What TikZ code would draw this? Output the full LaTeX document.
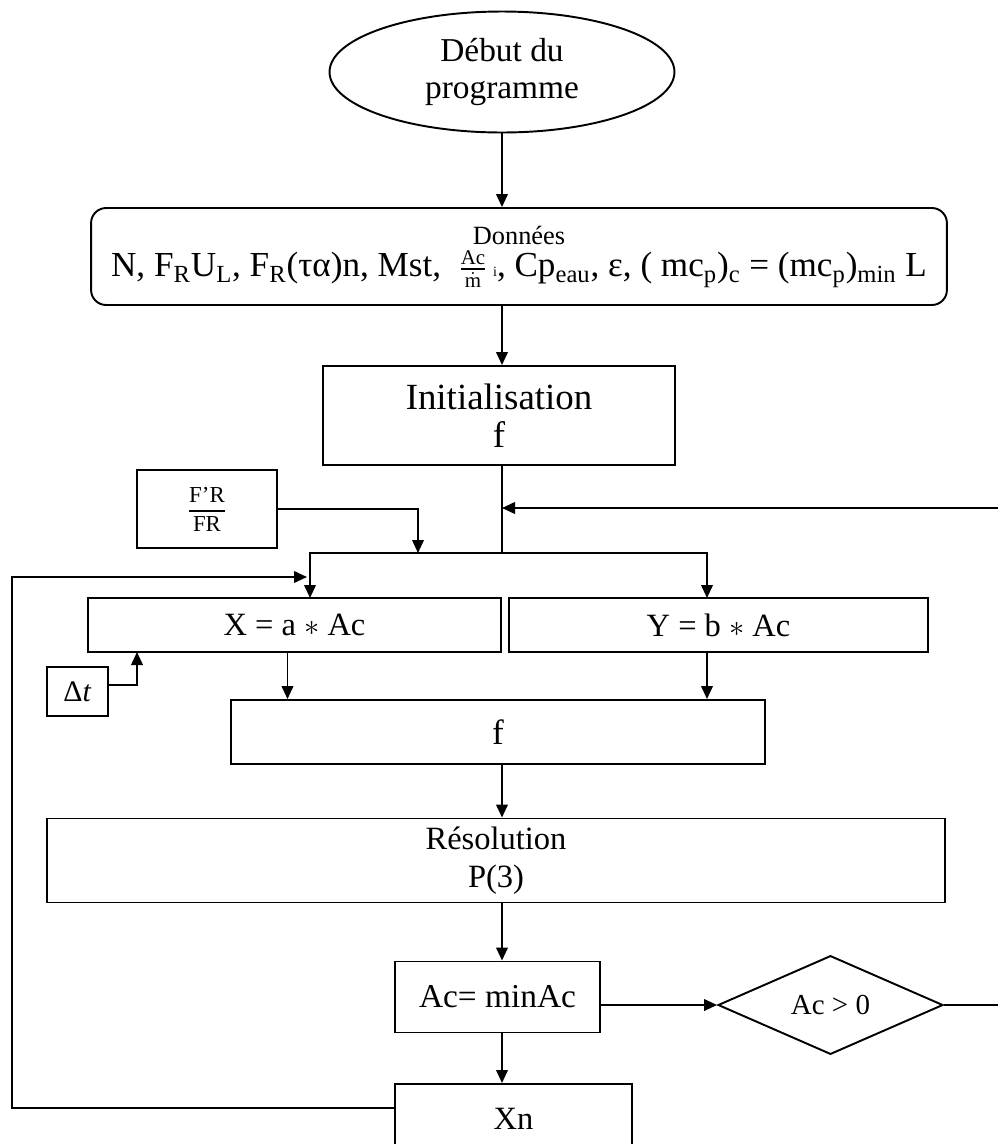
\documentclass[tikz,border=0pt]{standalone}
\usepackage{amsmath}
\usepackage{fontspec}
\setmainfont{Liberation Serif}
\usetikzlibrary{positioning, arrows.meta, shapes.geometric, calc}
\newcommand{\Sub}[1]{\textsubscript{#1}}
\newcommand{\Flow}{{\fontsize{17}{17}\selectfont$\genfrac{}{}{0.6pt}{1}{\text{Ac}}{\dot{\text{m}}}$}}
\tikzset{
    block/.style={draw, rectangle, line width=1.1pt, inner sep=0pt, align=center},
    term/.style={draw, ellipse, line width=1.1pt, inner sep=0pt, align=center},
    test/.style={draw, diamond, line width=1.1pt, inner sep=0pt},
    link/.style={line width=1.1pt},
}

\begin{document}
\begin{tikzpicture}[x=0.02cm, y=-0.02cm]
    \tikzset{
      >={Triangle[length=7.4pt, width=6.6pt]},
      every node/.append style={font=\fontsize{18.5}{22}\selectfont},
    }
    \useasboundingbox (0,0) rectangle (998,1144);
    \clip (0,0) rectangle (998,1144);

    % blocs
    \node[term, minimum width=6.9cm, minimum height=2.42cm, font=\fontsize{19}{21.5}\selectfont] (start) at (502,72) {Début du\\programme};
    \node[block, rounded corners=0.3cm, minimum width=17.12cm, minimum height=1.94cm, font=\fontsize{20}{18.5}\selectfont] (data) at (519,256.5)
      {{\fontsize{15}{15}\selectfont Données}\\
       N, F\Sub{R}U\Sub{L}, F\Sub{R}(τα)n, Mst,\ \ \smash{\Flow}\,{\fontsize{8}{8}\selectfont i}, Cp\Sub{eau}, ε, ( mc\Sub{p})\Sub{c} = (mc\Sub{p})\Sub{min} L};
    \node[block, minimum width=7.04cm, minimum height=1.98cm, font=\fontsize{21}{21.5}\selectfont] (init) at (499,415.5) {Initialisation\\f};
    \node[block, minimum width=2.8cm, minimum height=1.56cm, font=\fontsize{13}{13}\selectfont] (ratio) at (207,509)
      {$\genfrac{}{}{0.8pt}{0}{\text{F'R}}{\text{FR}}$};
    \node[block, minimum width=8.26cm, minimum height=1.08cm] (xa) at (294.5,625) {X = a $\ast$ Ac};
    \node[block, minimum width=8.38cm, minimum height=1.08cm] (yb) at (718.5,625) {Y = b $\ast$ Ac};
    \node[block, minimum width=1.22cm, minimum height=0.98cm, font=\fontsize{17}{17}\selectfont] (dt) at (77.5,691.5) {Δ\textit{t}};
    \node[block, minimum width=10.68cm, minimum height=1.28cm, font=\fontsize{20}{20}\selectfont] (fbox) at (498,732) {f};
    \node[block, minimum width=17.96cm, minimum height=1.68cm, font=\fontsize{18.5}{21.5}\selectfont] (res) at (496,860.5) {Résolution\\P(3)};
    \node[block, minimum width=4.1cm, minimum height=1.42cm, font=\fontsize{19}{19}\selectfont] (minac) at (497.5,997) {Ac= minAc};
    \node[test, minimum width=4.5cm, minimum height=1.72cm, font=\fontsize{16.5}{16.5}\selectfont] (check) at (830.5,1005) {Ac > 0};
    \node[block, anchor=north, minimum width=4.74cm, minimum height=1.4cm] (xn) at (513.5,1083) {Xn};

    % points de passage
    \coordinate (split) at (502,553);
    \coordinate (back) at (998,508);
    \coordinate (xin) at (310,598);
    \coordinate (yin) at (707,598);
    \coordinate (rin) at (418,553);
    \coordinate (xout) at (395,1108);
    \coordinate (turn) at (12,577);
    \coordinate (lin) at (307,577);
    \coordinate (dtout) at (108,685);
    \coordinate (dtin) at (137,652);
    \coordinate (exit) at (998,1005);

    % liaisons
    \draw[link, ->] (split |- start.south) -- (split |- data.north);
    \draw[link, ->] (split |- data.south) -- (split |- init.north);
    \draw[link] (split |- init.south) -- (split);
    \draw[link, ->] (back) -- (back -| split);
    \draw[link, ->] (ratio.east) -| (rin);
    \draw[link, ->] (split) -| (xin);
    \draw[link, ->] (split) -| (yin);
    \draw[link, ->] (xout) -| (turn) -- (lin);
    \draw[link, ->] (dtout) -| (dtin);
    \draw[link, ->] ([xshift=-0.14cm]xa.south) -- ([xshift=-0.14cm]xa.south |- fbox.north);
    \draw[link, ->] ([xshift=-0.23cm]yb.south) -- ([xshift=-0.23cm]yb.south |- fbox.north);
    \draw[link, ->] (split |- fbox.south) -- (split |- res.north);
    \draw[link, ->] (split |- res.south) -- (split |- minac.north);
    \draw[link, ->] (split |- minac.south) -- (split |- xn.north);
    \draw[link, ->] (minac.east |- check.west) -- (check.west);
    \draw[link] (check.east) -- (exit);
\end{tikzpicture}
\end{document}
